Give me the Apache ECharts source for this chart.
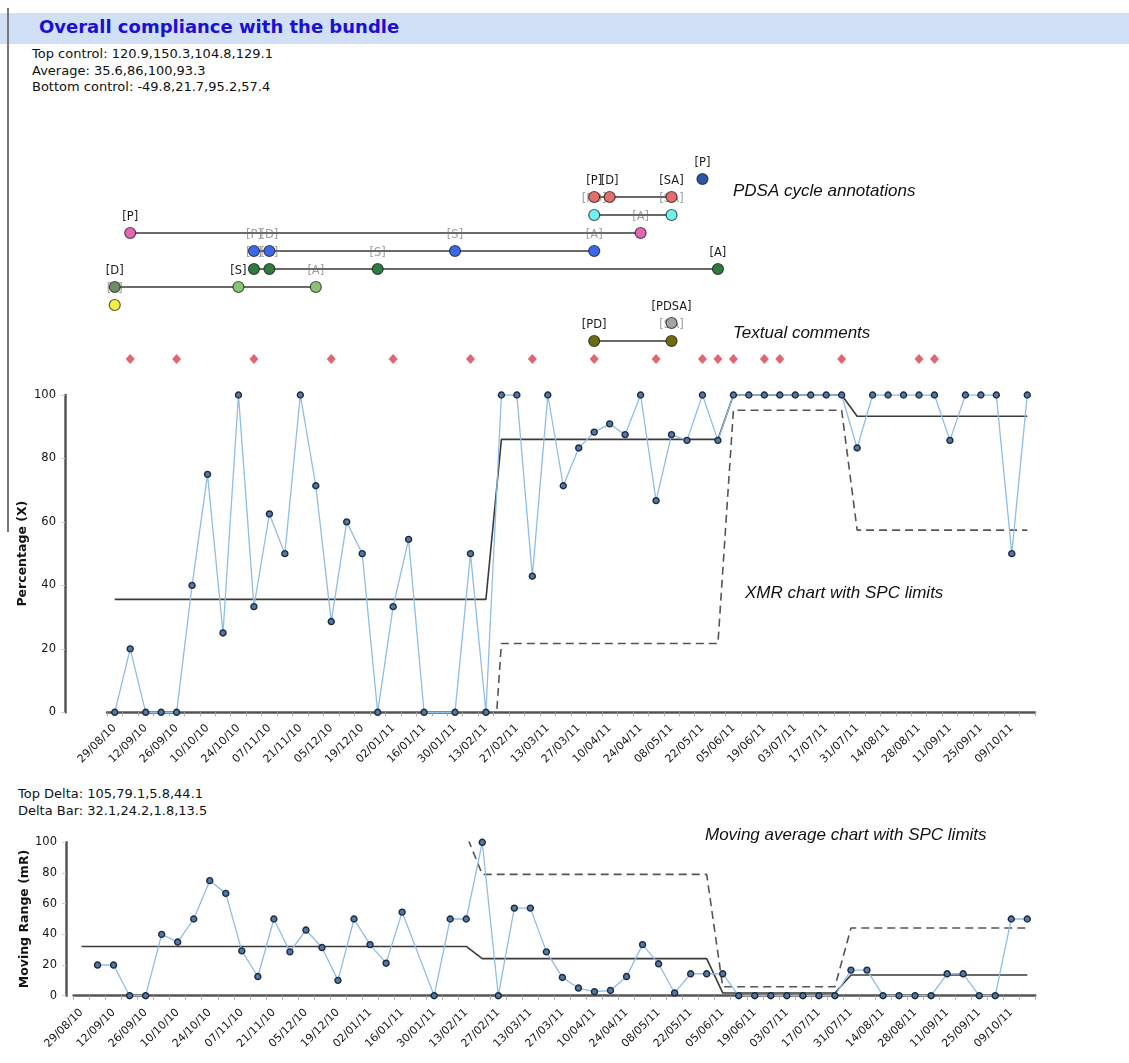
<!DOCTYPE html>
<html><head><meta charset="utf-8">
<script src="https://cdn.jsdelivr.net/npm/echarts@6/dist/echarts.min.js"></script>
<style>
html,body{margin:0;padding:0;background:#fff;}
#wrap{position:relative;width:1129px;height:1063px;overflow:hidden;font-family:"DejaVu Sans",Verdana,sans-serif;}
#bar{position:absolute;left:0;top:13px;width:1129px;height:31px;background:#d2e0f6;}
#title{position:absolute;left:39px;top:16px;font-weight:bold;font-size:18px;line-height:22px;color:#1c0fd4;white-space:nowrap;}
#vline{position:absolute;left:7px;top:8px;width:2px;height:524px;background:#777;}
.hd{position:absolute;font-size:13px;line-height:16.5px;color:#111;white-space:nowrap;}
#chart{position:absolute;left:0;top:0;width:1129px;height:1063px;}
</style></head>
<body><div id="wrap">
<div id="bar"></div>
<div id="vline"></div>
<div id="title">Overall compliance with the bundle</div>
<div class="hd" style="left:32px;top:46px;">Top control: 120.9,150.3,104.8,129.1<br>Average: 35.6,86,100,93.3<br>Bottom control: -49.8,21.7,95.2,57.4</div>
<div class="hd" style="left:18px;top:786px;">Top Delta: 105,79.1,5.8,44.1<br>Delta Bar: 32.1,24.2,1.8,13.5</div>
<div id="chart"></div>
</div>
<script>
// ---------------- data ----------------
const categories = [
'29/08/10','05/09/10','12/09/10','19/09/10','26/09/10','03/10/10','10/10/10','17/10/10','24/10/10','31/10/10',
'07/11/10','14/11/10','21/11/10','28/11/10','05/12/10','12/12/10','19/12/10','26/12/10','02/01/11','09/01/11',
'16/01/11','23/01/11','30/01/11','06/02/11','13/02/11','20/02/11','27/02/11','06/03/11','13/03/11','20/03/11',
'27/03/11','03/04/11','10/04/11','17/04/11','24/04/11','01/05/11','08/05/11','15/05/11','22/05/11','29/05/11',
'05/06/11','12/06/11','19/06/11','26/06/11','03/07/11','10/07/11','17/07/11','24/07/11','31/07/11','07/08/11',
'14/08/11','21/08/11','28/08/11','04/09/11','11/09/11','18/09/11','25/09/11','02/10/11','09/10/11','16/10/11'];

const xValues = [
0,20,0,0,0,40,75,25,100,33.3,
62.5,50,100,71.4,28.6,60,50,0,33.3,54.5,
0,null,0,50,0,100,100,42.9,100,71.4,
83.3,88.3,90.9,87.5,100,66.7,87.5,85.7,100,85.7,
100,100,100,100,100,100,100,100,83.3,100,
100,100,100,100,85.7,100,100,100,50,100];

const mrValues = [
null,20,20,0,0,40,35,50,75,66.7,
29.2,12.5,50,28.6,42.8,31.4,10,50,33.3,21.2,
54.5,null,0,50,50,100,0,57.1,57.1,28.6,
11.9,5,2.6,3.4,12.5,33.3,20.8,1.8,14.3,14.3,
14.3,0,0,0,0,0,0,0,16.7,16.7,
0,0,0,0,14.3,14.3,0,0,50,50];

const phaseStarts   = [0, 25, 40, 48];
const topControl    = [120.9, 150.3, 104.8, 129.1];
const average       = [35.6, 86, 100, 93.3];
const bottomControl = [-49.8, 21.7, 95.2, 57.4];
const topDelta      = [105, 79.1, 5.8, 44.1];
const deltaBar      = [32.1, 24.2, 1.8, 13.5];
const yTicks        = [0, 20, 40, 60, 80, 100];

const commentWeeks = [1,4,9,14,18,23,27,31,35,38,39,40,42,43,47,52,53];

// PDSA rows (top to bottom): week index of each event, its label, whether label is dark (1) or grey (0)
const pdsaColors = ['#2b56a6','#e26f6c','#6ff2f2','#e067b4','#3d68ea','#2f7a3f','#8cc474','#f2ee45','#a5a5a5','#6e6c12'];
const pdsaWeeks  = [[38],[31,32,36],[31,36],[1,34],[9,10,22,31],[9,10,17,39],[0,8,13],[0],[36],[31,36]];
const pdsaLabels = [['[P]'],['[P]','[D]','[SA]'],['[PD]','[SA]'],['[P]','[A]'],['[P]','[D]','[S]','[A]'],
                    ['[P]','[D]','[S]','[A]'],['[D]','[S]','[A]'],['[P]'],['[PDSA]'],['[PD]','[SA]']];
const pdsaDark   = [[1],[1,1,1],[0,0],[1,0],[0,0,0,0],[0,0,0,1],[1,1,0],[0],[1],[1,0]];

// ---------------- helpers ----------------
function byPhase(vals){
  return categories.map((c,i)=>{ let p=0; for(let k=0;k<phaseStarts.length;k++) if(i>=phaseStarts[k]) p=k; return vals[p]; });
}
const FONT = '"DejaVu Sans", Verdana, sans-serif';

const series = [];
// PDSA rows
pdsaWeeks.forEach((weeks,k)=>{
  series.push({
    type:'line', xAxisIndex:0, yAxisIndex:0, z: 40-k, animation:false, silent:true,
    symbol:'circle', symbolSize:11, showSymbol:true, showAllSymbol:true,
    labelLayout:{hideOverlap:false},
    lineStyle:{color:'#6a6a6a', width:2},
    itemStyle:{color: pdsaColors[k], borderColor:'rgba(20,20,20,0.7)', borderWidth:1.2},
    data: weeks.map((w,j)=>({
      value:[w,k],
      itemStyle:{color: (k===6 && j===0) ? '#6f8e68' : pdsaColors[k], borderColor:'rgba(20,20,20,0.7)', borderWidth:1.2},
      label:{show:true, position:'top', distance:4, formatter: pdsaLabels[k][j],
             color: pdsaDark[k][j] ? '#1a1a1a' : '#a0a0a0', fontSize:11.5, fontFamily:FONT}
    }))
  });
});
// textual comments
series.push({
  type:'scatter', xAxisIndex:0, yAxisIndex:0, z:5, animation:false, silent:true,
  symbol:'diamond', symbolSize:[9,10], itemStyle:{color:'#d8404f'},
  data: commentWeeks.map(w=>[w,10])
});

// XMR chart
const lineBase = {type:'line', showSymbol:false, symbol:'none', animation:false, silent:true, clip:true};
series.push(Object.assign({}, lineBase, {xAxisIndex:1, yAxisIndex:1, z:3, data: byPhase(average), lineStyle:{color:'#3a3a3a', width:1.6}}));
series.push(Object.assign({}, lineBase, {xAxisIndex:1, yAxisIndex:1, z:3, data: byPhase(bottomControl), lineStyle:{color:'#555', width:1.6, type:[8,5]}}));
series.push(Object.assign({}, lineBase, {xAxisIndex:1, yAxisIndex:1, z:3, data: byPhase(topControl), lineStyle:{color:'#555', width:1.6, type:[8,5]}}));
series.push({type:'line', xAxisIndex:1, yAxisIndex:1, z:6, animation:false, silent:true, connectNulls:true,
  data:xValues, symbol:'circle', symbolSize:6, showAllSymbol:true,
  lineStyle:{color:'#8fbde6', width:1.3},
  itemStyle:{color:'#56779e', borderColor:'#1a2a44', borderWidth:1.4}});

// MR chart
series.push(Object.assign({}, lineBase, {xAxisIndex:2, yAxisIndex:2, z:3, data: byPhase(deltaBar), lineStyle:{color:'#3a3a3a', width:1.6}}));
series.push(Object.assign({}, lineBase, {xAxisIndex:2, yAxisIndex:2, z:3, data: byPhase(topDelta), lineStyle:{color:'#555', width:1.6, type:[8,5]}}));
series.push({type:'line', xAxisIndex:2, yAxisIndex:2, z:6, animation:false, silent:true, connectNulls:true,
  data:mrValues, symbol:'circle', symbolSize:6, showAllSymbol:true,
  lineStyle:{color:'#8fbde6', width:1.3},
  itemStyle:{color:'#56779e', borderColor:'#1a2a44', borderWidth:1.4}});

function catAxis(grid, offset){
  return {type:'category', gridIndex:grid, data:categories, boundaryGap:true, offset:offset,
    axisLine:{show:true, lineStyle:{color:'#555', width:2.5}},
    axisTick:{show:true, interval:0, length:4, lineStyle:{color:'#aaa', width:1}},
    axisLabel:{show:true, interval:1, rotate:45, margin:8, fontSize:11, color:'#151515', fontFamily:FONT},
    splitLine:{show:false}};
}
function valAxis(grid, offset, name, gap){
  return {type:'value', gridIndex:grid, min:yTicks[0], max:yTicks[yTicks.length-1], interval:yTicks[1]-yTicks[0], offset:offset,
    axisLine:{show:true, lineStyle:{color:'#555', width:2.5}},
    axisTick:{show:true, length:4, lineStyle:{color:'#ccc'}},
    axisLabel:{fontSize:11.5, color:'#151515', margin:9, fontFamily:FONT},
    splitLine:{show:false},
    name:name, nameLocation:'middle', nameGap:gap, nameRotate:90, nameMoveOverlap:false,
    nameTextStyle:{fontSize:12.5, fontWeight:'bold', color:'#151515', fontFamily:FONT}};
}

const chart = echarts.init(document.getElementById('chart'), null, {renderer:'canvas'});
chart.setOption({
  animation:false,
  backgroundColor:'transparent',
  grid:[
    {left:107, right:94, top:143, height:234},
    {left:107, right:94, top:395, height:317.3},
    {left:73.5, right:93.7, top:842.3, height:153.4}
  ],
  xAxis:[
    {type:'category', gridIndex:0, data:categories, boundaryGap:true, show:false},
    catAxis(1, 6),
    catAxis(2, 7)
  ],
  yAxis:[
    {type:'value', gridIndex:0, min:-2, max:11, inverse:true, show:false},
    valAxis(1, 42, 'Percentage (X)', 36),
    valAxis(2, 7.5, 'Moving Range (mR)', 35)
  ],
  graphic:[
    {type:'text', x:733, y:191.5, silent:true, style:{text:'PDSA cycle annotations', font:'italic 17px "Liberation Sans", Arial, sans-serif', fill:'#111', verticalAlign:'middle'}},
    {type:'text', x:733, y:333, silent:true, style:{text:'Textual comments', font:'italic 17px "Liberation Sans", Arial, sans-serif', fill:'#111', verticalAlign:'middle'}},
    {type:'text', x:745, y:593, silent:true, style:{text:'XMR chart with SPC limits', font:'italic 17px "Liberation Sans", Arial, sans-serif', fill:'#111', verticalAlign:'middle'}},
    {type:'text', x:705, y:835, silent:true, style:{text:'Moving average chart with SPC limits', font:'italic 17px "Liberation Sans", Arial, sans-serif', fill:'#111', verticalAlign:'middle'}}
  ],
  series:series
});
</script>
</body></html>
